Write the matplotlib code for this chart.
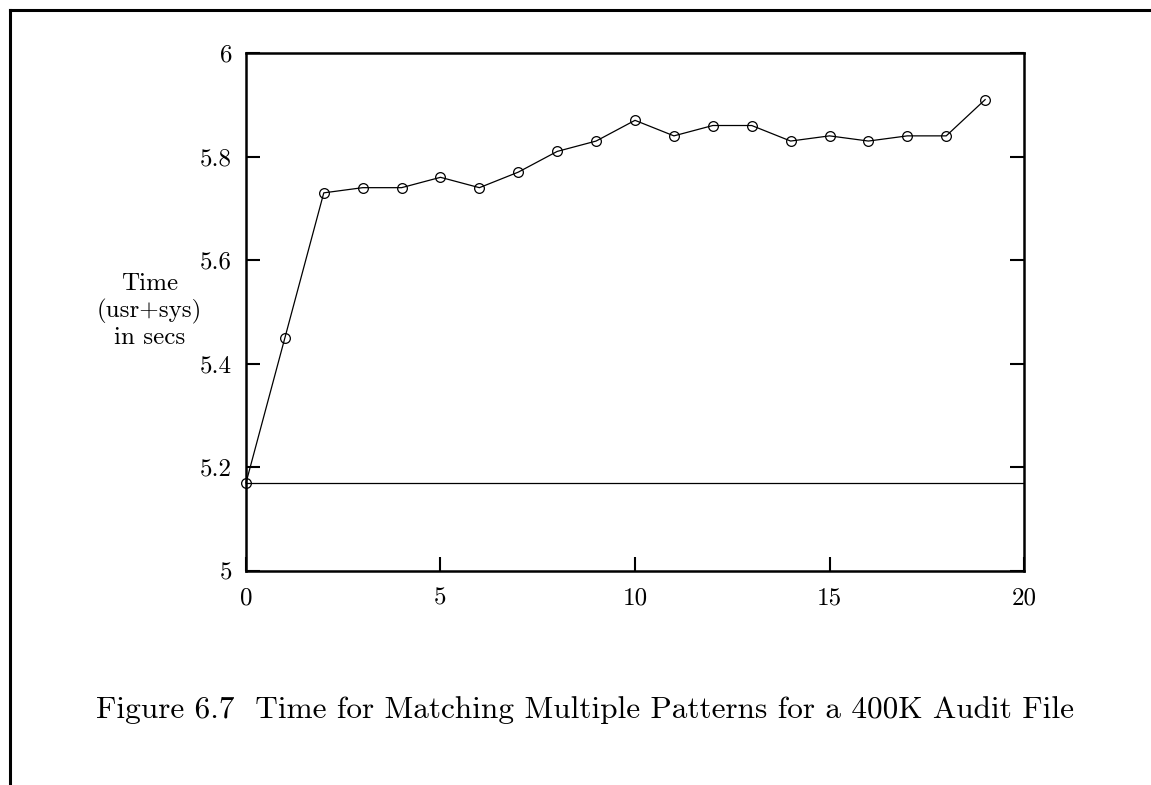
import matplotlib
matplotlib.use("Agg")
from matplotlib import pyplot as plt
from matplotlib.lines import Line2D

# data
patterns = list(range(20))
times = [5.17, 5.45, 5.73, 5.74, 5.74, 5.76, 5.74, 5.77, 5.81, 5.83,
         5.87, 5.84, 5.86, 5.86, 5.83, 5.84, 5.83, 5.84, 5.84, 5.91]
baseline = 5.17
xticks = [0, 5, 10, 15, 20]
yticks = [5, 5.2, 5.4, 5.6, 5.8, 6]
ytick_labels = ["5", "5.2", "5.4", "5.6", "5.8", "6"]

plt.rcParams['font.family'] = ['cmr10', 'DejaVu Serif']
plt.rcParams['axes.formatter.use_mathtext'] = True

fig = plt.figure(figsize=(11.51, 7.85), dpi=100)
ax = fig.add_axes([0.2137, 0.2726, 0.676, 0.6599])

ax.plot(patterns, times, color='black', lw=0.9, marker='o', ms=7,
        mfc='none', mec='black', mew=0.9, clip_on=False, zorder=3)
ax.axhline(baseline, color='black', lw=0.9)

ax.set_xlim(0, 20)
ax.set_ylim(5, 6)
ax.set_xticks(xticks)
ax.set_xticklabels([str(t) for t in xticks])
ax.set_yticks(yticks)
ax.set_yticklabels(ytick_labels)
ax.tick_params(axis='both', direction='in', length=10, width=1.5,
               labelsize=18, pad=12, colors='black')
ax.tick_params(axis='y', right=True, pad=10)
ax.tick_params(axis='x', top=False)
for s in ax.spines.values():
    s.set_linewidth(1.8)

fig.text(0.13, 0.604, "Time\n(usr+sys)\nin secs", ha='center', va='center',
         fontsize=18, linespacing=1.2)

fig.text(0.508, 0.0955,
         "Figure 6.7  Time for Matching Multiple Patterns for a 400K Audit File",
         ha='center', va='center', fontsize=22.5)

# page frame (top and left edges)
fig.add_artist(Line2D([0.0087, 1.0], [0.987, 0.987], color='black', lw=2.2,
                      transform=fig.transFigure))
fig.add_artist(Line2D([0.0087, 0.0087], [0.0, 0.987], color='black', lw=2.2,
                      transform=fig.transFigure))

plt.savefig('out.png', dpi=100)
